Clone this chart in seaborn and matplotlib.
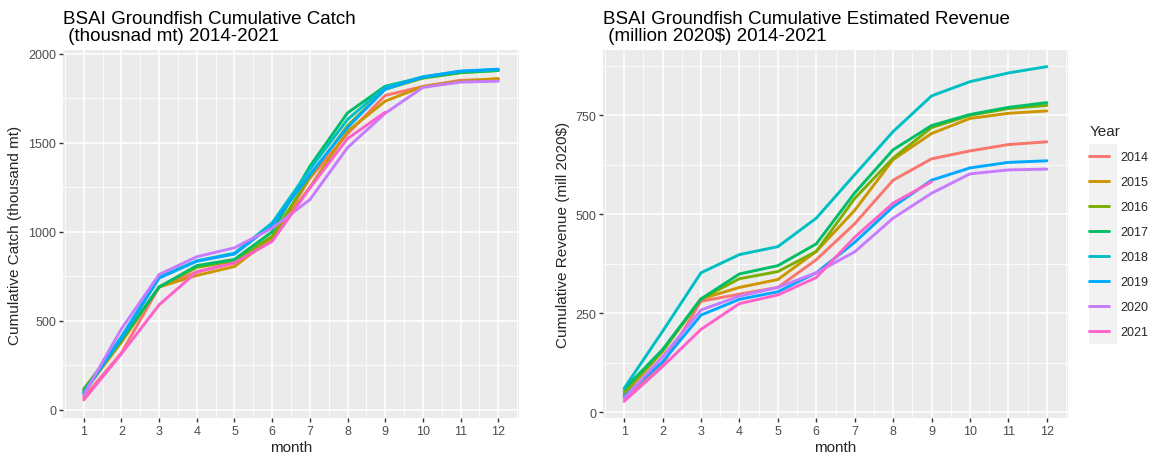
import matplotlib
matplotlib.use("Agg")
import matplotlib.pyplot as plt
import seaborn as sns
import pandas as pd
from matplotlib.patches import Rectangle
from matplotlib.ticker import MultipleLocator

months = list(range(1, 13))
years = ["2014", "2015", "2016", "2017", "2018", "2019", "2020", "2021"]
colors = ["#F8766D", "#CD9600", "#7CAE00", "#00BE67", "#00BFC4", "#00A9FF", "#C77CFF", "#FF61CC"]

catch_2014 = [70, 320, 690, 775, 825, 955, 1300, 1550, 1765, 1815, 1850, 1855]
catch_2015 = [100, 380, 690, 755, 805, 967, 1250, 1564, 1733, 1815, 1845, 1860]
catch_2016 = [118, 395, 690, 800, 837, 975, 1310, 1595, 1800, 1862, 1892, 1905]
catch_2017 = [110, 393, 690, 810, 845, 1000, 1367, 1667, 1817, 1865, 1895, 1905]
catch_2018 = [100, 412, 745, 837, 880, 1050, 1350, 1630, 1812, 1870, 1900, 1910]
catch_2019 = [92, 405, 740, 835, 875, 1038, 1321, 1585, 1800, 1868, 1902, 1912]
catch_2020 = [85, 455, 760, 860, 910, 1020, 1180, 1472, 1665, 1810, 1840, 1845]
catch_2021 = [56, 315, 590, 775, 825, 946, 1245, 1523, 1671]

rev_2014 = [35, 120, 280, 298, 315, 385, 476, 586, 640, 660, 676, 683]
rev_2015 = [45, 153, 286, 315, 335, 406, 510, 638, 704, 742, 755, 761]
rev_2016 = [51, 155, 286, 337, 355, 406, 540, 642, 719, 750, 767, 775]
rev_2017 = [58, 158, 286, 349, 370, 425, 554, 663, 724, 752, 770, 782]
rev_2018 = [60, 204, 352, 398, 418, 490, 600, 709, 799, 835, 857, 873]
rev_2019 = [40, 127, 245, 285, 304, 352, 429, 519, 586, 617, 631, 635]
rev_2020 = [35, 140, 258, 293, 315, 352, 405, 490, 553, 602, 612, 614]
rev_2021 = [27, 115, 209, 274, 296, 340, 442, 528, 582]

catch_series = [catch_2014, catch_2015, catch_2016, catch_2017, catch_2018, catch_2019, catch_2020, catch_2021]
rev_series = [rev_2014, rev_2015, rev_2016, rev_2017, rev_2018, rev_2019, rev_2020, rev_2021]


def to_long(series):
    rows = []
    for y, vals in zip(years, series):
        for m, v in zip(months, vals):
            rows.append({"month": m, "value": v, "Year": y})
    return pd.DataFrame(rows)


df_catch = to_long(catch_series)
df_rev = to_long(rev_series)

sns.set_theme(style="darkgrid", rc={
    "axes.facecolor": "#EBEBEB",
    "grid.color": "white",
    "axes.edgecolor": "#EBEBEB",
    "xtick.color": "#333333",
    "ytick.color": "#333333",
    "xtick.labelcolor": "#4D4D4D",
    "ytick.labelcolor": "#4D4D4D",
    "xtick.bottom": True,
    "ytick.left": True,
    "xtick.major.size": 3,
    "ytick.major.size": 3,
    "xtick.major.width": 1,
    "ytick.major.width": 1,
})
plt.rcParams["font.family"] = ["Liberation Sans", "DejaVu Sans"]

fig = plt.figure(figsize=(11.56, 4.56), dpi=100)
H = 456.0
W = 1156.0
ax1 = fig.add_axes([63 / W, 1 - 419 / H, (519 - 63) / W, (419 - 51) / H])
ax2 = fig.add_axes([603 / W, 1 - 419 / H, (1068 - 603) / W, (419 - 51) / H])

palette = dict(zip(years, colors))

for ax, df, title, ylabel, major, minor in [
    (ax1, df_catch, "BSAI Groundfish Cumulative Catch\n (thousnad mt) 2014-2021",
     "Cumulative Catch (thousand mt)", 500, 250),
    (ax2, df_rev, "BSAI Groundfish Cumulative Estimated Revenue\n (million 2020$) 2014-2021",
     "Cumulative Revenue (mill 2020$)", 250, 125),
]:
    sns.lineplot(data=df, x="month", y="value", hue="Year", palette=palette,
                 hue_order=years, linewidth=2.1, ax=ax, legend=False)
    ax.set_xticks(months)
    ax.set_xticks([m + 0.5 for m in months[:-1]] + [0.5, 12.5], minor=True)
    ax.yaxis.set_major_locator(MultipleLocator(major))
    ax.yaxis.set_minor_locator(MultipleLocator(minor))
    ax.grid(which="major", color="white", linewidth=1.1)
    ax.grid(which="minor", color="white", linewidth=0.55)
    ax.tick_params(which="minor", length=0)
    ax.tick_params(which="major", labelsize=9, pad=2)
    ax.set_xlim(0.45, 12.55)
    ax.set_title(title, loc="left", fontsize=13.5, pad=7.5, color="black", linespacing=0.95)
    ax.set_xlabel("month", fontsize=11, labelpad=2)
    ax.set_ylabel(ylabel, fontsize=11, labelpad=4)
    for s in ax.spines.values():
        s.set_visible(False)

ax1.set_ylim(-45, 2020)
ax2.set_ylim(-15, 915)

handles = [plt.Line2D([], [], color=c, linewidth=2.1) for c in colors]
fig.patches.append(Rectangle((1089 / W, 1 - 345 / H), 28 / W, 200 / H,
                             transform=fig.transFigure, facecolor="#F2F2F2",
                             edgecolor="none", zorder=0))
leg = fig.legend(handles, years, loc="upper left",
                 bbox_to_anchor=(1078 / W, 1 - 114 / H), frameon=False,
                 title="Year", fontsize=9, title_fontsize=11,
                 handlelength=1.55, handletextpad=0.9, labelspacing=1.04,
                 alignment="left")

fig.savefig("out.png", dpi=100)
